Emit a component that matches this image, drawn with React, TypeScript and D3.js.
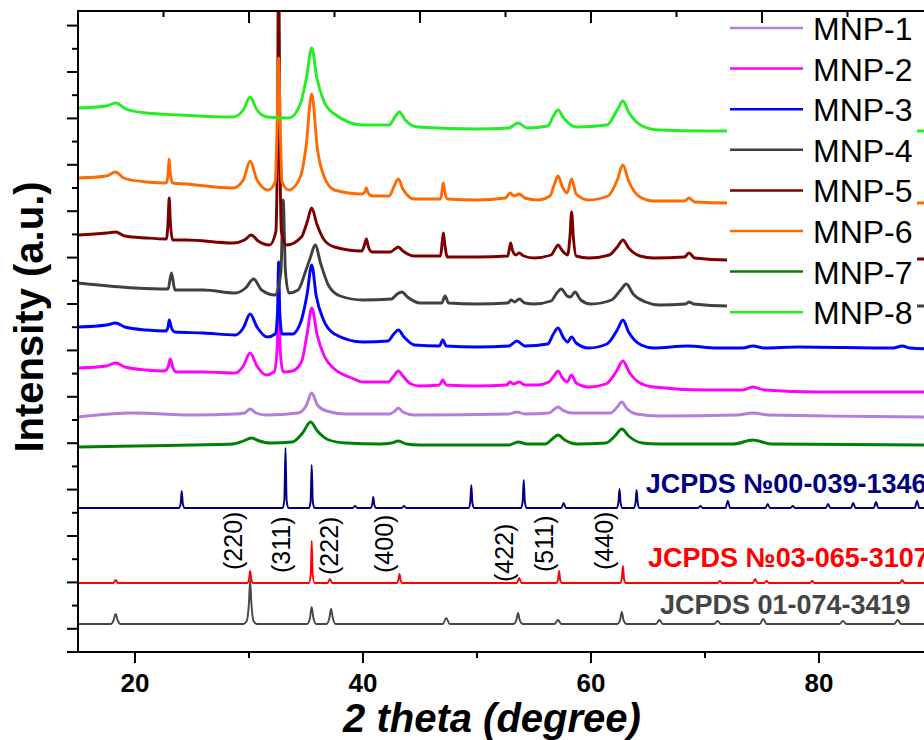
import React from "react";
import * as d3 from "d3";

type Pt = [number, number];

// 2θ (degree) vs intensity (a.u.), stacked traces
const ref3419: Pt[] = [[15,28],[17.9,28],[18.1,31],[18.3,38],[18.5,31],[18.7,28],
[29.5,28],[29.8,31],[30.0,50],[30.1,72],[30.2,50],[30.4,31],[30.7,28],
[35.1,28],[35.35,34],[35.5,45],[35.65,34],[35.9,28],
[36.8,28],[37.05,34],[37.2,43],[37.35,34],[37.6,28],
[47.0,28],[47.3,34],[47.6,28],
[53.2,28],[53.45,32],[53.6,39],[53.75,32],[54.0,28],
[56.8,28],[57.1,32],[57.4,28],
[62.3,28],[62.55,32],[62.7,40],[62.85,32],[63.1,28],
[65.7,28],[66.0,32],[66.3,28],[70.8,28],[71.1,31],[71.4,28],
[74.8,28],[75.1,33],[75.4,28],[81.8,28],[82.1,31],[82.4,28],
[86.6,28],[86.9,32],[87.2,28],[90,28]];

const ref3107: Pt[] = [[15,69],[18.1,69],[18.3,72],[18.5,69],
[29.85,69],[30.0,73],[30.1,81],[30.2,73],[30.35,69],
[35.25,69],[35.42,78],[35.5,111],[35.58,78],[35.75,69],
[36.9,69],[37.1,73],[37.3,69],
[42.95,69],[43.1,72],[43.2,78],[43.3,72],[43.45,69],
[53.5,69],[53.7,74],[53.9,69],
[56.95,69],[57.1,72],[57.2,81],[57.3,72],[57.45,69],
[62.55,69],[62.7,73],[62.8,86],[62.9,73],[63.05,69],
[71.1,69],[71.3,71],[71.5,69],[74.2,69],[74.4,73],[74.6,69],
[75.2,69],[75.4,71],[75.6,69],[79.2,69],[79.4,71],[79.6,69],
[87.1,69],[87.3,72],[87.5,69],[90,69]];

const ref1346: Pt[] = [[15,144],[23.85,144],[24.0,148],[24.1,161],[24.2,148],[24.35,144],
[32.95,144],[33.1,152],[33.2,204],[33.3,152],[33.45,144],
[35.25,144],[35.4,150],[35.5,187],[35.6,150],[35.75,144],
[39.1,144],[39.3,146],[39.5,144],
[40.65,144],[40.8,147],[40.9,155],[41.0,147],[41.15,144],
[43.4,144],[43.6,146],[43.8,144],
[49.25,144],[49.4,149],[49.5,167],[49.6,149],[49.75,144],
[53.85,144],[54.0,150],[54.1,172],[54.2,150],[54.35,144],
[57.4,144],[57.6,149],[57.8,144],
[62.25,144],[62.4,149],[62.5,163],[62.6,149],[62.75,144],
[63.75,144],[63.9,149],[64.0,162],[64.1,149],[64.25,144],
[69.4,144],[69.6,146],[69.8,144],[71.8,144],[72.0,151],[72.2,144],
[75.3,144],[75.5,148],[75.7,144],[77.5,144],[77.7,146],[77.9,144],
[80.6,144],[80.8,148],[81.0,144],[82.8,144],[83.0,149],[83.2,144],
[84.8,144],[85.0,150],[85.2,144],[88.4,144],[88.6,151],[88.8,144],[90,144]];

const mnp7: Pt[] = [[15,205],[20,206],[25,207],[28.6,208],[29.5,211],[30.2,214],[30.9,211],[31.8,209],
[33.8,210],[34.7,219],[35.4,230],[36.0,221],[37.0,212],[38.5,209],[41.5,208],
[42.5,209],[43.1,211],[43.8,208],[45,207],[52.8,207],[53.6,210],[54.4,208],
[56.0,208],[56.6,213],[57.1,217],[57.7,212],[58.8,208],
[61.3,209],[62.1,216],[62.7,223],[63.3,216],[64.5,209],[66,208],[72.5,208],[74.2,212],[75.8,208],[90,207]];

const mnp1: Pt[] = [[15,235],[19.8,239],[25,237],[28.8,238],[29.6,239],[30.1,243],[30.6,239],[31.5,237],
[34.3,239],[35.0,246],[35.5,259],[36.0,247],[36.8,241],[38.5,238],[42.3,238],
[42.8,241],[43.1,244],[43.5,240],[44.5,237],[52.8,238],[53.5,240],[54.2,238],
[56.3,239],[56.8,243],[57.1,245],[57.5,242],[58.3,239],
[61.7,239],[62.3,245],[62.7,250],[63.1,244],[64,238],[66,236],[72.8,237],[74.2,239],[75.6,237],[90,235]];

const mnp2: Pt[] = [[15,284],[17.5,286],[18.3,289],[19.1,285],[21,282],[22.6,281],[22.9,285],[23.1,293],[23.3,285],[23.6,280],[26,280],
[28.8,279],[29.5,286],[30.1,299],[30.7,286],[31.5,277],[32.2,280],[32.45,300],[32.6,334],[32.75,300],[33.0,280],[33.8,281],
[34.6,290],[35.1,318],[35.5,344],[36.0,316],[36.6,296],[37.5,283],[39,274],[40,270],
[42.2,270],[42.7,276],[43.1,281],[43.5,276],[44.2,268],[45,266],[46.7,267],[47.0,272],[47.3,267],[50,266],
[52.6,267],[52.9,270],[53.2,268],[53.7,270],[54.2,267],[55.3,267],
[56.3,270],[56.8,277],[57.1,281],[57.5,274],[57.9,270],[58.3,277],[58.7,269],[59.8,265],
[61.3,268],[62.2,280],[62.8,291],[63.4,279],[64.3,269],[65.5,265],[70,262],[73.3,262],[74.2,265],[75.2,262],[80,260],[90,260]];

const mnp3: Pt[] = [[15,325],[17.5,327],[18.3,329],[19.1,325],[21,322],[22.7,321],[22.9,325],[23.0,332],[23.2,324],[23.5,320],[26,319],
[28.8,317],[29.5,324],[30.1,338],[30.7,325],[31.6,315],[32.3,318],[32.5,340],[32.6,390],[32.7,340],[32.9,318],[33.8,318],
[34.6,332],[35.1,358],[35.5,387],[35.9,356],[36.5,333],[37.5,318],[40,310],
[42.2,311],[42.7,318],[43.1,322],[43.6,315],[44.5,307],[46.7,306],[47.0,312],[47.3,306],[50,305],
[52.8,306],[53.5,311],[54.2,306],[56.2,308],[56.7,318],[57.1,324],[57.6,314],[57.95,310],[58.3,315],[58.7,309],[59.8,304],
[61.4,308],[62.3,322],[62.8,332],[63.3,320],[64.4,307],[65.5,304],[68.5,306],[71,304],[73.3,304],[74.2,306],[75.2,304],[78.1,305],[86.5,304],[87.3,306],[88,304],[90,303]];

const mnp4: Pt[] = [[15,369],[20,364],[22.9,363],[23.2,379],[23.5,362],[26,362],
[28.8,359],[29.7,364],[30.4,373],[31.1,362],[32.3,357],[32.8,380],[33.0,452],[33.2,380],[33.5,359],[34.3,362],
[35.0,382],[35.4,395],[35.8,407],[36.3,388],[37.0,366],[38,356],[40,352],
[42.5,353],[43.0,358],[43.4,360],[43.9,355],[45,349],[46.9,349],[47.2,356],[47.5,349],[50,348],
[52.7,349],[53.0,352],[53.3,350],[53.7,353],[54.2,349],[55,348],
[56.5,351],[57.0,359],[57.4,363],[57.9,356],[58.2,355],[58.6,360],[59.1,352],[60,348],
[61.8,352],[62.6,362],[63.1,368],[63.7,358],[64.8,350],[66,347],[68.3,348],[68.6,350],[69,348],[72,346],[90,346]];

const mnp5: Pt[] = [[15,417],[17.5,419],[18.3,420],[19.1,416],[21,414],[22.75,413],[22.9,430],[23.0,454],[23.1,430],[23.3,412],[24.5,412],
[28.6,409],[29.6,412],[30.2,417],[30.8,411],[31.8,407],[32.35,420],[32.5,520],[32.6,720],[32.7,520],[32.85,420],[33.3,407],
[34.6,415],[35.1,430],[35.5,444],[35.95,428],[36.6,412],[37.5,405],[39.9,401],[40.15,408],[40.3,413],[40.45,406],[40.8,400],
[42.4,400],[42.8,403],[43.1,405],[43.5,401],[44.5,396],[46.8,396],[46.95,410],[47.05,419],[47.15,410],[47.4,395],[50,395],
[52.7,396],[52.85,404],[52.95,409],[53.1,402],[53.4,397],[53.7,399],[54.1,396],[55,394],
[56.5,397],[56.9,404],[57.1,407],[57.5,401],[57.95,397],[58.15,415],[58.3,440],[58.45,415],[58.7,396],[59.8,394],
[61.6,397],[62.3,405],[62.8,412],[63.3,404],[64.3,396],[65.5,394],[68.2,395],[68.6,399],[69.1,394],[72,392],[90,393]];

const mnp6: Pt[] = [[15,474],[17.5,476],[18.3,480],[19.0,474],[21,470],[22.75,469],[22.9,478],[23.0,493],[23.1,478],[23.3,469],[24.5,468],
[28.6,464],[29.5,472],[30.1,491],[30.7,472],[31.7,462],[32.3,470],[32.45,520],[32.6,594],[32.75,520],[32.9,470],[33.5,462],
[34.5,475],[35.0,505],[35.5,558],[36.0,503],[36.6,475],[37.5,462],[39.9,458],[40.15,460],[40.3,464],[40.45,459],[40.8,456],
[42.3,456],[42.7,465],[43.1,473],[43.5,463],[44.5,453],[46.8,453],[46.95,462],[47.05,469],[47.15,462],[47.4,453],[50,452],
[52.5,454],[52.9,459],[53.25,456],[53.7,458],[54.2,454],[55.3,452],
[56.4,456],[56.8,468],[57.1,476],[57.5,465],[57.9,459],[58.3,473],[58.7,458],[59.8,452],
[61.5,456],[62.3,472],[62.8,487],[63.3,471],[64.3,455],[65.5,451],[68.2,451],[68.6,454],[69.1,450],[72,449],[90,449]];

const mnp8: Pt[] = [[15,544],[17.5,546],[18.3,549],[19.2,543],[21,539],[24,537],
[28.6,535],[29.5,542],[30.1,555],[30.7,542],[31.6,535],[33.5,534],
[34.5,548],[35.05,575],[35.5,604],[35.95,574],[36.6,550],[37.5,538],[40,527],
[42.3,527],[42.8,535],[43.2,540],[43.7,532],[44.8,525],[50,523],
[52.8,524],[53.6,529],[54.4,524],[56.2,526],[56.7,536],[57.1,542],[57.6,534],[58.7,525],
[61.4,527],[62.3,542],[62.8,551],[63.3,540],[64.5,526],[66,522],[70,521],[90,521]];

const seriesNames = ["MNP-1","MNP-2","MNP-3","MNP-4","MNP-5","MNP-6","MNP-7","MNP-8"];
const seriesData = [mnp1, mnp2, mnp3, mnp4, mnp5, mnp6, mnp7, mnp8];
const seriesColors = ["#B57EDC","#FF00FF","#0000FF","#404040","#7A0000","#FF6A00","#008000","#22EE22"];

const refNames = ["JCPDS \u211600-039-1346","JCPDS \u211603-065-3107","JCPDS 01-074-3419"];
const refData = [ref1346, ref3107, ref3419];
const refColors = ["#000080","#FF0000","#454545"];
const refLabelPos: Pt[] = [[64.8,159],[65.0,85],[66.05,38]];

const hklLabels = ["(220)","(311)","(222)","(400)","(422)","(511)","(440)"];
const hklPos: Pt[] = [[29.4,82],[33.6,79],[37.8,77],[42.6,79],[53.2,70],[56.7,80],[61.9,82]];

const xMajor = [20,40,60,80];
const xMinor = [30,50,70,90];
const xTopMajor = [15,30,45,60,75,90];
const xTopMinor = [22.5,37.5,52.5,67.5,82.5];

const W = 924, H = 740;
const FONT = "Arial, 'Liberation Sans', sans-serif";

export default function App() {
  const x = d3.scaleLinear().domain([15, 90]).range([78, 933]);
  const y = d3.scaleLinear().domain([0, 641]).range([652, 11]);
  const yMajor = [0, ...d3.range(0, 14).map(k => 23.2 + 46.4 * k)];
  const yMinor = d3.range(1, 14).map(k => 46.4 * k);
  const line = d3.line<Pt>().x(d => x(d[0])).y(d => y(d[1])).curve(d3.curveMonotoneX);
  const left = x(15), top = y(641), bottom = y(0);
  const legendY = (i: number) => 28 + i * 40.6;
  return (
    <svg width={W} height={H} style={{ position: "absolute", left: 0, top: 0, background: "#fff" }}>
      <defs>
        <clipPath id="plot"><rect x={left} y={top} width={933 - left} height={bottom - top} /></clipPath>
      </defs>
      <rect x={0} y={0} width={W} height={H} fill="#fff" />
      <g clipPath="url(#plot)" fill="none">
        {refData.map((d, i) => (
          <path key={"r" + i} d={line(d) || ""} stroke={refColors[i]} strokeWidth={1.9} />
        ))}
        {seriesData.map((d, i) => (
          <path key={"s" + i} d={line(d) || ""} stroke={seriesColors[i]} strokeWidth={2.9} strokeLinejoin="round" />
        ))}
      </g>
      {refNames.map((t, i) => (
        <text key={"rl" + i} x={x(refLabelPos[i][0])} y={y(refLabelPos[i][1])} fill={refColors[i]}
          fontFamily={FONT} fontWeight="bold" fontSize={27}>{t}</text>
      ))}
      {hklLabels.map((t, i) => (
        <text key={"h" + i} transform={`translate(${x(hklPos[i][0])},${y(hklPos[i][1])}) rotate(-90)`}
          fontFamily={FONT} fontSize={25} fill="#000">{t}</text>
      ))}
      <rect x={727} y={13} width={190} height={317} fill="#fff" />
      {seriesNames.map((n, i) => (
        <g key={"lg" + i}>
          <line x1={730} x2={803} y1={legendY(i)} y2={legendY(i)} stroke={seriesColors[i]} strokeWidth={2.5} />
          <text x={813} y={legendY(i) + 12} fontFamily={FONT} fontSize={32} fill="#000">{n}</text>
        </g>
      ))}
      <g stroke="#000" strokeWidth={2} fill="none">
        <line x1={left} x2={left} y1={top - 1} y2={bottom + 1} />
        <line x1={left - 1} x2={940} y1={top} y2={top} />
        <line x1={left - 1} x2={940} y1={bottom} y2={bottom} />
        {yMajor.map((v, i) => <line key={"ym" + i} x1={left - 11} x2={left} y1={y(v)} y2={y(v)} />)}
        {yMinor.map((v, i) => <line key={"yn" + i} x1={left - 6} x2={left} y1={y(v)} y2={y(v)} />)}
        {xMajor.map((v, i) => <line key={"xm" + i} x1={x(v)} x2={x(v)} y1={bottom} y2={bottom + 11} />)}
        {xMinor.map((v, i) => <line key={"xn" + i} x1={x(v)} x2={x(v)} y1={bottom} y2={bottom + 6} />)}
        {xTopMajor.map((v, i) => <line key={"tm" + i} x1={x(v)} x2={x(v)} y1={top} y2={top + 12} />)}
        {xTopMinor.map((v, i) => <line key={"tn" + i} x1={x(v)} x2={x(v)} y1={top} y2={top + 6} />)}
      </g>
      {xMajor.map((v, i) => (
        <text key={"xl" + i} x={x(v)} y={692} textAnchor="middle" fontFamily={FONT} fontWeight="bold" fontSize={26}>{v}</text>
      ))}
      <text x={492} y={732} textAnchor="middle" fontFamily={FONT} fontWeight="bold" fontStyle="italic" fontSize={40}>2 theta (degree)</text>
      <text transform="translate(43,317) rotate(-90)" textAnchor="middle" fontFamily={FONT} fontWeight="bold" fontSize={40}>Intensity (a.u.)</text>
    </svg>
  );
}
